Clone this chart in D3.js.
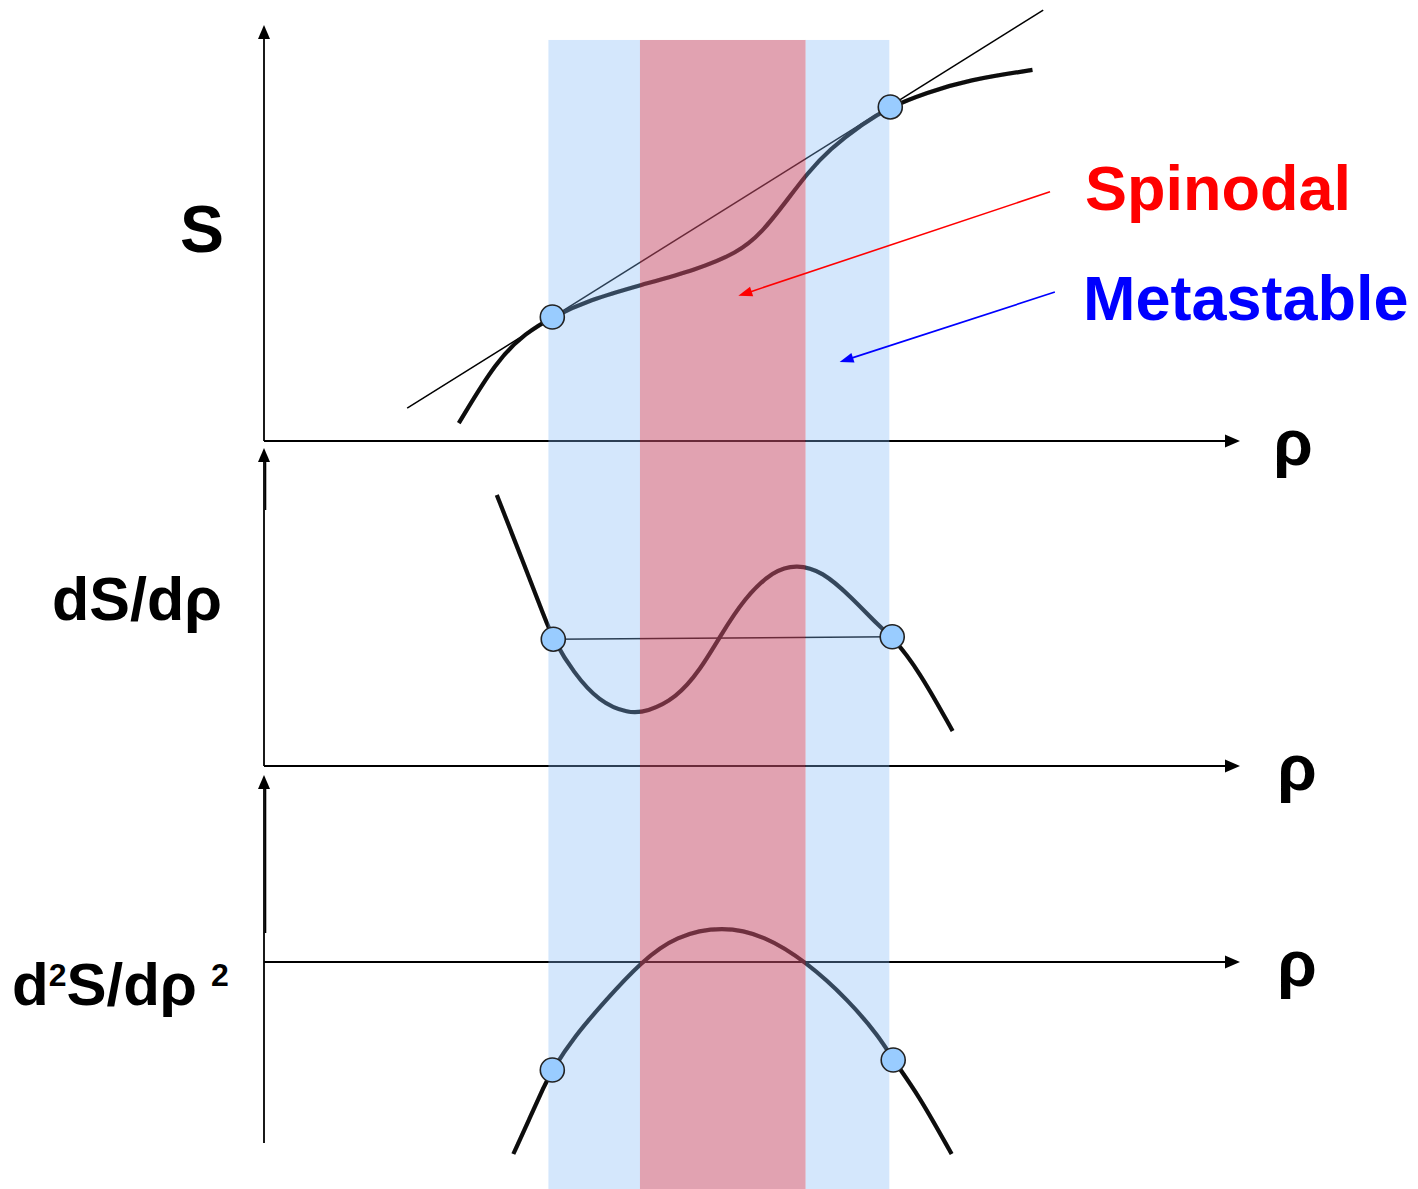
<!DOCTYPE html>
<html>
<head>
<meta charset="utf-8">
<script src="https://cdn.jsdelivr.net/npm/d3@7"></script>
<style>
  html, body { margin: 0; padding: 0; background: #fff; }
  text { font-family: "Liberation Sans", Arial, sans-serif; font-weight: bold; }
</style>
</head>
<body>
<div id="chart"></div>
<script>
// density axis (shared by the three panels)
var rhoDomain = [0, 10];

// S(rho) curve, its double tangent and the tangent points
var sCurve = [
  [2.00, 0.43], [2.39, 1.95], [2.69, 2.60], [2.96, 2.98], [3.34, 3.39],
  [3.87, 3.75], [4.43, 4.11], [4.86, 4.52], [5.11, 5.00], [5.37, 5.79],
  [5.58, 6.44], [5.80, 7.00], [6.15, 7.64], [6.43, 8.03], [6.80, 8.37],
  [7.23, 8.68], [7.89, 8.92]
];
var sTangent = [[1.47, 0.79], [8.00, 10.36]];
var sPoints = [[2.96, 2.98], [6.43, 8.03]];

// dS/drho curve, equal-value line and its end points
var dCurve = [
  [2.39, 6.82], [2.64, 5.26], [2.89, 3.67], [2.97, 3.19], [3.18, 2.34],
  [3.44, 1.62], [3.74, 1.32], [3.93, 1.36], [4.23, 1.70], [4.48, 2.42],
  [4.68, 3.25], [4.93, 4.22], [5.23, 4.92], [5.47, 5.07], [5.73, 4.90],
  [6.03, 4.25], [6.32, 3.50], [6.45, 3.25], [6.72, 2.42], [7.07, 0.88]
];
var dPoints = [[2.97, 3.19], [6.45, 3.25]];

// d2S/drho2 curve and points
var d2Curve = [
  [2.56, -4.80], [2.72, -3.95], [2.88, -3.08], [2.96, -2.70], [3.18, -1.88],
  [3.51, -0.95], [3.87, 0.00], [4.23, 0.66], [4.71, 0.90], [5.14, 0.66],
  [5.57, 0.00], [6.00, -0.95], [6.32, -1.88], [6.46, -2.45], [6.71, -3.28],
  [7.06, -4.80]
];
var d2Points = [[2.96, -2.70], [6.46, -2.45]];

// regions along rho
var metastableBands = [[2.92, 3.86], [5.56, 6.42]];
var spinodalBand = [3.86, 5.56];

// annotation arrows, in S-panel coordinates: [from, to]
var spinodalArrow = [[8.07, 5.99], [4.87, 3.49]];
var metastableArrow = [[8.12, 3.58], [5.91, 1.90]];

// vertical extents of the y axes
var sAxisExtent = [0, 10];
var dAxisExtent = [0, 8];
var d2AxisExtent = [-4.525, 4.675];

var width = 1418, height = 1189;

var svg = d3.select('#chart').append('svg')
  .attr('width', width)
  .attr('height', height);

var defs = svg.append('defs');
defs.append('filter').attr('id', 'soft')
  .attr('x', '-5%').attr('y', '-5%').attr('width', '110%').attr('height', '110%')
  .append('feGaussianBlur').attr('stdDeviation', 0.7);

// scales
var x = d3.scaleLinear().domain(rhoDomain).range([264, 1238]);
var yS = d3.scaleLinear().domain([0, 10]).range([441, 25]);
var yD = d3.scaleLinear().domain([0, 8]).range([766, 448]);
var yD2 = d3.scaleLinear().domain([-5, 5]).range([1162, 762]);

function arrowHead(g, tx, ty, angle, len, half, color) {
  var bx = tx - len * Math.cos(angle), by = ty - len * Math.sin(angle);
  var nx = -Math.sin(angle) * half, ny = Math.cos(angle) * half;
  g.append('path')
    .attr('d', 'M' + tx + ',' + ty + 'L' + (bx + nx) + ',' + (by + ny) +
               'L' + (bx - nx) + ',' + (by - ny) + 'Z')
    .attr('fill', color);
}

var axes = svg.append('g');

function drawAxes(y, extent, zeroY, stub) {
  var x0 = x(rhoDomain[0]);
  // vertical
  axes.append('line')
    .attr('x1', x0).attr('x2', x0)
    .attr('y1', y(extent[0])).attr('y2', y(extent[1]) + 10)
    .attr('stroke', '#000').attr('stroke-width', 1.8);
  arrowHead(axes, x0, y(extent[1]), -Math.PI / 2, 14, 6, '#000');
  if (stub) {
    axes.append('line')
      .attr('x1', x0 + 1.5).attr('x2', x0 + 1.5)
      .attr('y1', y(extent[1]) + 12).attr('y2', stub)
      .attr('stroke', '#000').attr('stroke-width', 1.6);
  }
  // horizontal
  axes.append('line')
    .attr('x1', x0).attr('x2', x(rhoDomain[1]) - 8)
    .attr('y1', zeroY).attr('y2', zeroY)
    .attr('stroke', '#000').attr('stroke-width', 1.8);
  arrowHead(axes, x(rhoDomain[1]) + 2, zeroY, 0, 15, 6.5, '#000');
}

drawAxes(yS, sAxisExtent, yS(0), null);
drawAxes(yD, dAxisExtent, yD(0), 510);
drawAxes(yD2, d2AxisExtent, yD2(0), 933);

// thin guide lines
var lineS = d3.line().x(function(d) { return x(d[0]); }).y(function(d) { return yS(d[1]); });
var lineD = d3.line().x(function(d) { return x(d[0]); }).y(function(d) { return yD(d[1]); });
var lineD2 = d3.line().x(function(d) { return x(d[0]); }).y(function(d) { return yD2(d[1]); });

svg.append('path').attr('d', lineS(sTangent))
  .attr('fill', 'none').attr('stroke', '#000').attr('stroke-width', 1.5);
svg.append('path').attr('d', lineD(dPoints))
  .attr('fill', 'none').attr('stroke', '#000').attr('stroke-width', 1.5);

// curves
var curves = svg.append('g').attr('filter', 'url(#soft)');
[[lineS, sCurve], [lineD, dCurve], [lineD2, d2Curve]].forEach(function(c) {
  curves.append('path')
    .attr('d', c[0].curve(d3.curveBasis)(c[1]))
    .attr('fill', 'none')
    .attr('stroke', '#0a0a0a')
    .attr('stroke-width', 4.2)
    .attr('stroke-linecap', 'butt');
});

// bands (drawn over curves, translucent)
var bandTop = yS(9.64), bandBottom = yD2(-5.675);
svg.selectAll('rect.meta')
  .data(metastableBands)
  .enter().append('rect')
    .attr('class', 'meta')
    .attr('x', function(d) { return x(d[0]); })
    .attr('width', function(d) { return x(d[1]) - x(d[0]); })
    .attr('y', bandTop)
    .attr('height', bandBottom - bandTop)
    .attr('fill', 'rgb(128,185,247)')
    .attr('fill-opacity', 0.34);

svg.append('rect')
  .attr('x', x(spinodalBand[0]))
  .attr('width', x(spinodalBand[1]) - x(spinodalBand[0]))
  .attr('y', bandTop)
  .attr('height', bandBottom - bandTop)
  .attr('fill', 'rgb(198,79,108)')
  .attr('fill-opacity', 0.53);

// points
function drawPoints(data, y) {
  svg.selectAll(null)
    .data(data)
    .enter().append('circle')
      .attr('cx', function(d) { return x(d[0]); })
      .attr('cy', function(d) { return y(d[1]); })
      .attr('r', 12)
      .attr('fill', '#99ccff')
      .attr('stroke', '#222')
      .attr('stroke-width', 1.6);
}
drawPoints(sPoints, yS);
drawPoints(dPoints, yD);
drawPoints(d2Points, yD2);

// annotation arrows
var notes = svg.append('g');
[[spinodalArrow, '#ff0000'], [metastableArrow, '#0000ff']].forEach(function(a) {
  var p0 = [x(a[0][0][0]), yS(a[0][0][1])];
  var p1 = [x(a[0][1][0]), yS(a[0][1][1])];
  var ang = Math.atan2(p1[1] - p0[1], p1[0] - p0[0]);
  notes.append('line')
    .attr('x1', p0[0]).attr('y1', p0[1])
    .attr('x2', p1[0] - 10 * Math.cos(ang)).attr('y2', p1[1] - 10 * Math.sin(ang))
    .attr('stroke', a[1]).attr('stroke-width', 1.6);
  arrowHead(notes, p1[0], p1[1], ang, 14, 5, a[1]);
});

// labels
svg.append('text').attr('x', 180).attr('y', 252)
  .attr('font-size', 66).attr('fill', '#000').text('S');

svg.append('text').attr('x', 52).attr('y', 620)
  .attr('font-size', 61).attr('fill', '#000').text('dS/dρ');

var d2 = svg.append('text').attr('x', 12).attr('y', 1005)
  .attr('font-size', 60).attr('fill', '#000');
d2.append('tspan').text('d');
d2.append('tspan').attr('font-size', 32).attr('dy', -19).text('2');
d2.append('tspan').attr('dy', 19).text('S/dρ');
d2.append('tspan').attr('font-size', 32).attr('dx', 14).attr('dy', -19).text('2');

svg.append('text').attr('x', 1085).attr('y', 210)
  .attr('font-size', 63).attr('fill', '#ff0000').text('Spinodal');
svg.append('text').attr('x', 1083).attr('y', 320)
  .attr('font-size', 63).attr('fill', '#0000ff').text('Metastable');

[[yS(0), 1293], [yD(0), 1297], [yD2(0), 1297]].forEach(function(r) {
  svg.append('text')
    .attr('x', r[1]).attr('y', r[0] + 24)
    .attr('text-anchor', 'middle')
    .attr('font-size', 64).attr('fill', '#000').text('ρ');
});
</script>
</body>
</html>
